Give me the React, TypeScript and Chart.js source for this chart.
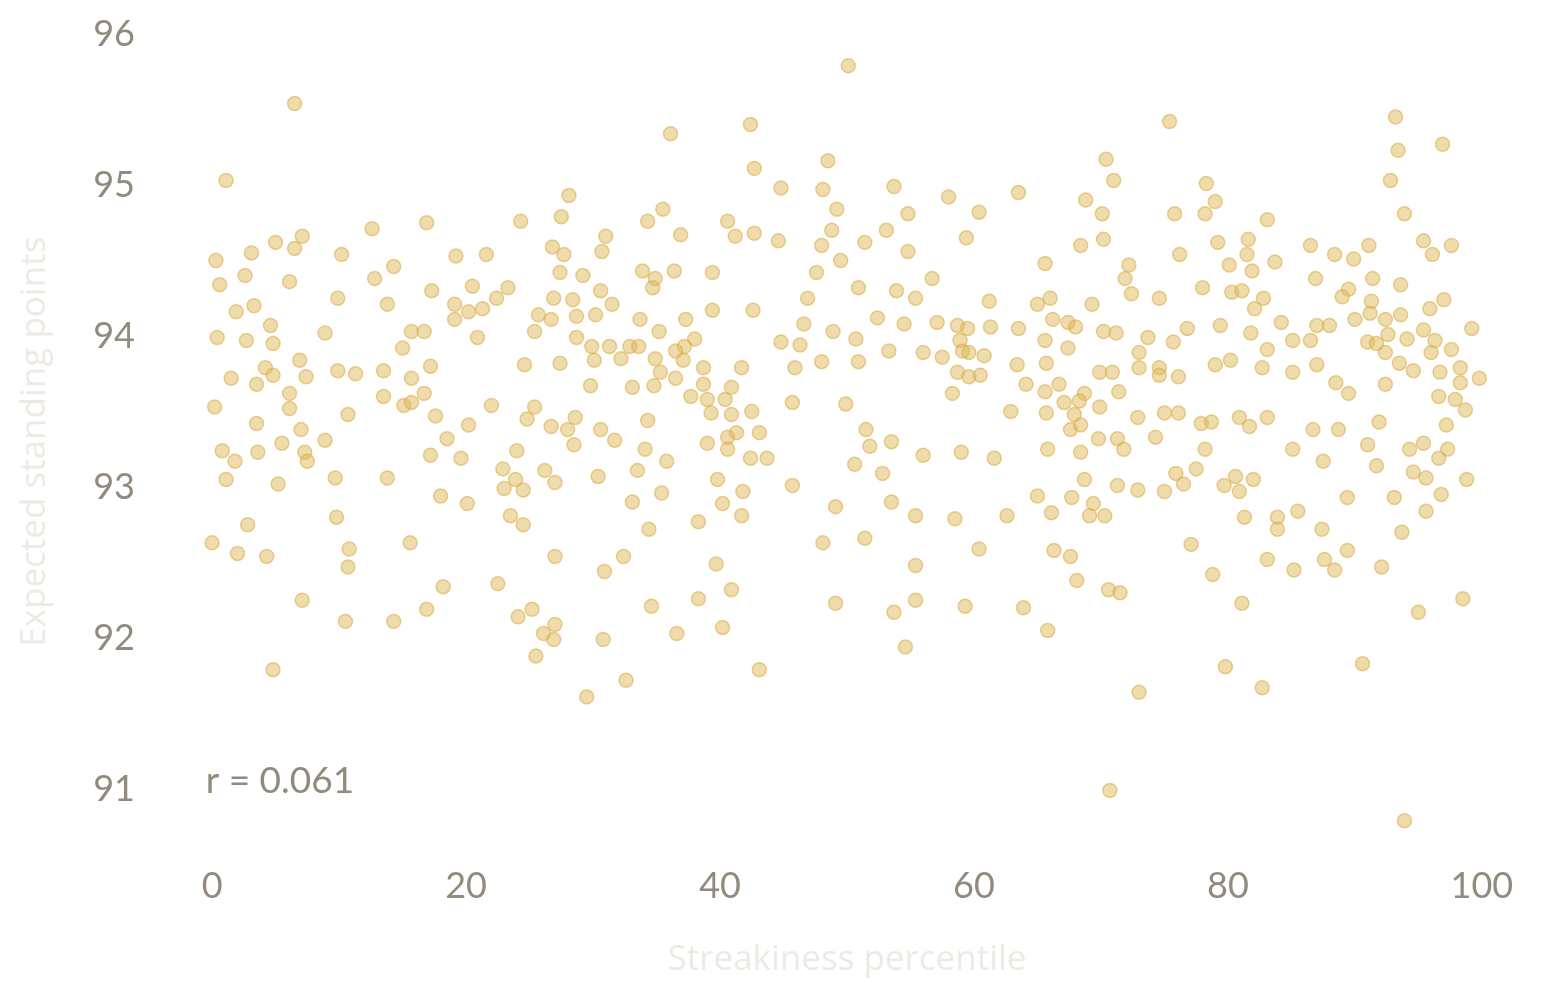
import React, { useEffect, useRef } from "react";
import { Chart, registerables } from "chart.js";

Chart.register(...registerables);

// Streakiness percentile (x) for each player
const streakiness: number[] = [
  6.5, 1.1, 12.6, 16.9, 24.3, 7.1, 5.0, 3.1, 0.3, 6.5,
  10.2, 14.3, 19.2, 21.6, 0.6, 2.6, 6.1, 12.8, 17.3, 20.5,
  23.3, 9.9, 13.8, 3.3, 1.9, 19.1, 20.2, 21.3, 22.4, 19.1,
  4.6, 0.4, 2.7, 4.8, 8.9, 15.7, 16.7, 20.9, 15.0, 6.9,
  4.2, 4.8, 7.4, 9.9, 11.3, 13.5, 17.2, 15.7, 24.6, 1.5,
  3.5, 6.1, 13.5, 16.7, 0.2, 6.1, 10.7, 15.1, 15.7, 17.6,
  22.0, 24.8, 3.5, 7.0, 20.2, 8.9, 18.5, 0.8, 3.6, 5.5,
  7.3, 17.2, 19.6, 24.0, 1.8, 7.5, 1.1, 5.2, 9.7, 13.8,
  18.0, 20.1, 22.9, 23.9, 23.0, 24.5, 23.5, 24.5, 2.8, 9.8,
  0.0, 2.0, 4.3, 10.8, 10.7, 15.6, 18.2, 22.5, 7.1, 10.5,
  14.3, 16.9, 24.1, 4.8,
  36.1, 42.4, 48.5, 42.7, 44.8, 48.1, 49.2, 28.1, 27.5, 35.5,
  34.3, 40.6, 36.9, 41.2, 42.7, 44.6, 48.8, 48.0, 49.5, 31.0,
  30.7, 26.8, 27.7, 27.4, 29.2, 33.9, 34.9, 34.7, 36.4, 39.4,
  47.6, 30.6, 26.9, 28.4, 31.5, 46.9, 25.7, 26.7, 28.7, 30.2,
  33.7, 37.3, 39.4, 42.6, 25.4, 35.2, 46.6, 48.9, 28.7, 29.9,
  31.3, 32.9, 33.6, 38.0, 37.2, 36.5, 37.1, 44.8, 46.3, 27.4,
  30.1, 32.2, 34.9, 38.7, 41.7, 45.9, 48.0, 35.3, 36.5, 29.8,
  33.1, 34.8, 38.7, 40.9, 37.7, 39.0, 40.4, 39.3, 40.9, 42.5,
  45.7, 49.9, 25.4, 28.6, 26.7, 28.0, 30.6, 34.3, 31.7, 28.5,
  34.1, 39.0, 40.6, 41.3, 40.6, 43.1, 42.4, 43.7, 26.2, 27.0,
  30.4, 33.5, 35.8, 33.1, 35.4, 39.8, 41.8, 40.2, 41.7, 45.7,
  49.1, 38.3, 34.4, 27.0, 32.4, 30.9, 39.7, 48.1, 40.9, 38.3,
  34.6, 49.1, 25.2, 27.0, 26.1, 26.9, 25.5, 30.8, 36.6, 40.2,
  43.1, 32.6, 29.5,
  50.1, 70.4, 71.0, 53.7, 58.0, 63.5, 54.8, 60.4, 68.8, 70.1,
  53.1, 51.4, 54.8, 59.4, 68.4, 70.2, 65.6, 72.2, 71.9, 72.4,
  74.6, 50.9, 53.9, 56.7, 55.4, 61.2, 65.0, 66.0, 69.3, 52.4,
  54.5, 57.1, 58.7, 59.5, 61.3, 63.5, 66.2, 67.4, 68.0, 70.2,
  71.2, 73.7, 50.7, 58.9, 65.6, 67.4, 53.3, 56.0, 57.5, 59.1,
  59.6, 60.8, 73.0, 50.9, 63.4, 65.7, 69.9, 70.9, 73.0, 74.6,
  74.6, 58.7, 59.6, 60.5, 64.1, 65.6, 66.7, 68.7, 68.3, 67.1,
  71.4, 58.3, 62.9, 65.7, 67.9, 69.9, 72.9, 75.0, 51.5, 53.5,
  51.8, 67.6, 68.4, 69.8, 71.3, 74.3, 65.8, 71.8, 56.0, 59.0,
  68.4, 50.6, 52.8, 61.6, 68.7, 71.3, 72.9, 75.0, 65.0, 67.7,
  69.4, 66.1, 69.1, 70.3, 53.5, 55.4, 58.5, 62.6, 51.4, 60.4,
  66.3, 67.6, 55.4, 68.1, 70.6, 71.5, 53.7, 55.4, 59.3, 63.9,
  65.8, 54.6, 73.0, 70.7,
  75.4, 93.2, 93.4, 96.9, 92.8, 93.9, 78.3, 79.0, 75.8, 78.2,
  83.1, 76.2, 79.2, 81.6, 81.5, 80.1, 81.9, 83.7, 86.5, 88.4,
  89.9, 91.1, 95.4, 96.1, 97.6, 86.9, 91.4, 93.6, 78.0, 80.3,
  81.1, 82.8, 82.1, 89.5, 89.0, 91.3, 91.2, 97.0, 95.9, 76.8,
  79.4, 81.8, 84.2, 87.0, 88.0, 90.0, 92.4, 93.6, 99.2, 75.7,
  85.1, 86.5, 83.1, 92.6, 94.1, 95.4, 91.0, 91.7, 92.4, 96.3,
  96.0, 97.6, 76.1, 79.0, 80.2, 82.7, 85.1, 87.0, 93.5, 94.6,
  96.7, 98.3, 98.3, 99.8, 88.5, 89.5, 92.4, 96.6, 97.9, 98.7,
  76.1, 77.9, 78.7, 80.9, 81.7, 83.1, 86.7, 88.7, 91.9, 97.2,
  78.2, 85.1, 91.0, 94.3, 95.4, 97.3, 75.9, 77.5, 76.5, 80.6,
  79.7, 80.9, 82.0, 87.5, 91.7, 94.6, 95.6, 96.6, 98.8, 89.4,
  93.1, 96.8, 95.6, 81.3, 83.9, 83.9, 85.5, 87.4, 93.7, 77.1,
  83.1, 85.2, 87.6, 88.4, 89.4, 92.1, 78.8, 81.1, 98.5, 95.0,
  79.8, 82.7, 90.6, 93.9,
];

// Expected standing points (y) for each player, same order
const expectedPoints: number[] = [
  95.54, 95.03, 94.71, 94.75, 94.76, 94.66, 94.62, 94.55, 94.50, 94.58,
  94.54, 94.46, 94.53, 94.54, 94.34, 94.40, 94.36, 94.38, 94.30, 94.33,
  94.32, 94.25, 94.21, 94.20, 94.16, 94.21, 94.16, 94.18, 94.25, 94.11,
  94.07, 93.99, 93.97, 93.95, 94.02, 94.03, 94.03, 93.99, 93.92, 93.84,
  93.79, 93.74, 93.73, 93.77, 93.75, 93.77, 93.80, 93.72, 93.81, 93.72,
  93.68, 93.62, 93.60, 93.62, 93.53, 93.52, 93.48, 93.54, 93.56, 93.47,
  93.54, 93.45, 93.42, 93.38, 93.41, 93.31, 93.32, 93.24, 93.23, 93.29,
  93.23, 93.21, 93.19, 93.24, 93.17, 93.17, 93.05, 93.02, 93.06, 93.06,
  92.94, 92.89, 93.12, 93.05, 92.99, 92.98, 92.81, 92.75, 92.75, 92.80,
  92.63, 92.56, 92.54, 92.59, 92.47, 92.63, 92.34, 92.36, 92.25, 92.11,
  92.11, 92.19, 92.14, 91.79,
  95.34, 95.40, 95.16, 95.11, 94.98, 94.97, 94.84, 94.93, 94.79, 94.84,
  94.76, 94.76, 94.67, 94.66, 94.68, 94.63, 94.70, 94.60, 94.50, 94.66,
  94.56, 94.59, 94.54, 94.42, 94.40, 94.43, 94.38, 94.32, 94.43, 94.42,
  94.42, 94.30, 94.25, 94.24, 94.21, 94.25, 94.14, 94.11, 94.13, 94.14,
  94.11, 94.11, 94.17, 94.17, 94.03, 94.03, 94.08, 94.03, 93.99, 93.93,
  93.93, 93.93, 93.93, 93.98, 93.93, 93.90, 93.84, 93.96, 93.94, 93.82,
  93.84, 93.85, 93.85, 93.79, 93.79, 93.79, 93.83, 93.76, 93.72, 93.67,
  93.66, 93.67, 93.68, 93.66, 93.60, 93.58, 93.58, 93.49, 93.48, 93.50,
  93.56, 93.55, 93.53, 93.46, 93.40, 93.38, 93.38, 93.44, 93.31, 93.28,
  93.25, 93.29, 93.33, 93.36, 93.25, 93.36, 93.19, 93.19, 93.11, 93.03,
  93.07, 93.11, 93.17, 92.90, 92.96, 93.05, 92.97, 92.89, 92.81, 93.01,
  92.87, 92.77, 92.72, 92.54, 92.54, 92.44, 92.49, 92.63, 92.32, 92.26,
  92.21, 92.23, 92.19, 92.09, 92.03, 91.99, 91.88, 91.99, 92.03, 92.07,
  91.79, 91.72, 91.61,
  95.79, 95.17, 95.03, 94.99, 94.92, 94.95, 94.81, 94.82, 94.90, 94.81,
  94.70, 94.62, 94.56, 94.65, 94.60, 94.64, 94.48, 94.47, 94.38, 94.28,
  94.25, 94.32, 94.30, 94.38, 94.25, 94.23, 94.21, 94.25, 94.21, 94.12,
  94.08, 94.09, 94.07, 94.05, 94.06, 94.05, 94.11, 94.09, 94.06, 94.03,
  94.02, 93.99, 93.98, 93.97, 93.97, 93.92, 93.90, 93.89, 93.86, 93.90,
  93.89, 93.87, 93.89, 93.83, 93.81, 93.82, 93.76, 93.76, 93.79, 93.79,
  93.74, 93.76, 93.73, 93.74, 93.68, 93.63, 93.68, 93.62, 93.57, 93.56,
  93.63, 93.62, 93.50, 93.49, 93.48, 93.53, 93.46, 93.49, 93.38, 93.30,
  93.27, 93.38, 93.41, 93.32, 93.32, 93.33, 93.25, 93.25, 93.21, 93.23,
  93.23, 93.15, 93.09, 93.19, 93.05, 93.01, 92.98, 92.97, 92.94, 92.93,
  92.89, 92.83, 92.81, 92.81, 92.90, 92.81, 92.79, 92.81, 92.66, 92.59,
  92.58, 92.54, 92.48, 92.38, 92.32, 92.30, 92.17, 92.25, 92.21, 92.20,
  92.05, 91.94, 91.64, 90.99,
  95.42, 95.45, 95.23, 95.27, 95.03, 94.81, 95.01, 94.89, 94.81, 94.81,
  94.77, 94.54, 94.62, 94.64, 94.54, 94.47, 94.43, 94.49, 94.60, 94.54,
  94.51, 94.60, 94.63, 94.54, 94.60, 94.38, 94.38, 94.34, 94.32, 94.29,
  94.30, 94.25, 94.18, 94.31, 94.26, 94.23, 94.15, 94.24, 94.18, 94.05,
  94.07, 94.02, 94.09, 94.07, 94.07, 94.11, 94.11, 94.14, 94.05, 93.96,
  93.97, 93.97, 93.91, 94.01, 93.98, 94.04, 93.96, 93.95, 93.89, 93.97,
  93.89, 93.91, 93.73, 93.81, 93.84, 93.79, 93.76, 93.81, 93.82, 93.77,
  93.76, 93.79, 93.69, 93.72, 93.69, 93.62, 93.68, 93.60, 93.58, 93.51,
  93.49, 93.42, 93.43, 93.46, 93.40, 93.46, 93.38, 93.38, 93.43, 93.41,
  93.25, 93.25, 93.28, 93.25, 93.29, 93.25, 93.09, 93.12, 93.02, 93.07,
  93.01, 92.97, 93.05, 93.17, 93.14, 93.10, 93.06, 93.19, 93.05, 92.93,
  92.93, 92.95, 92.84, 92.80, 92.80, 92.72, 92.84, 92.72, 92.70, 92.62,
  92.52, 92.45, 92.52, 92.45, 92.58, 92.47, 92.42, 92.23, 92.26, 92.17,
  91.81, 91.67, 91.83, 90.79,
];

const xTicks: number[] = [0, 20, 40, 60, 80, 100];
const yTicks: number[] = [91, 92, 93, 94, 95, 96];
const xTitle = "Streakiness percentile";
const yTitle = "Expected standing points";
const correlationText = "r = 0.061";
const correlationX = -0.5;
const correlationY = 91.05;

const TICK_COLOR = "#928a7f";
const TITLE_COLOR = "#eeeae3";
const TICK_FONT = "Lato";
const TICK_SIZE = 36;
const TITLE_FONT = "'Open Sans', 'Noto Sans', sans-serif";
const TITLE_SIZE = 35;

const correlationPlugin = {
  id: "correlationLabel",
  afterDatasetsDraw(chart: any) {
    const { ctx, scales } = chart;
    ctx.save();
    ctx.font = `${TICK_SIZE + 1}px ${TICK_FONT}`;
    ctx.fillStyle = TICK_COLOR;
    ctx.textAlign = "left";
    ctx.textBaseline = "middle";
    ctx.fillText(
      correlationText,
      scales.x.getPixelForValue(correlationX),
      scales.y.getPixelForValue(correlationY)
    );
    ctx.restore();
  },
};

export default function App() {
  const canvasRef = useRef<HTMLCanvasElement | null>(null);

  useEffect(() => {
    if (!canvasRef.current) return;
    const points = streakiness.map((x, i) => ({ x, y: expectedPoints[i] }));
    const chart = new Chart(canvasRef.current, {
      type: "scatter",
      data: {
        datasets: [
          {
            data: points,
            backgroundColor: "rgba(224,185,90,0.5)",
            borderColor: "rgba(218,172,70,0.55)",
            borderWidth: 1.5,
            pointRadius: 7,
            pointHoverRadius: 7,
          },
        ],
      },
      options: {
        animation: false,
        responsive: true,
        maintainAspectRatio: false,
        layout: { padding: { top: 34, right: 43, left: 0, bottom: 0 } },
        plugins: {
          legend: { display: false },
          tooltip: { enabled: false },
        },
        scales: {
          x: {
            type: "linear",
            min: -3,
            max: 103,
            afterBuildTicks: (s: any) => {
              s.ticks = xTicks.map((v) => ({ value: v }));
            },
            afterFit: (s: any) => {
              s.height = 148.6;
              s.paddingLeft = 0;
              s.paddingRight = 0;
            },
            grid: { display: false, drawTicks: false },
            border: { display: false },
            ticks: {
              color: TICK_COLOR,
              font: { family: TICK_FONT, size: TICK_SIZE },
              padding: 15,
              maxRotation: 0,
            },
            title: {
              display: true,
              text: xTitle,
              color: TITLE_COLOR,
              font: { family: TITLE_FONT, size: TITLE_SIZE },
              padding: { top: 0, bottom: 17 },
            },
          },
          y: {
            type: "linear",
            min: 90.6,
            max: 96,
            afterBuildTicks: (s: any) => {
              s.ticks = yTicks.map((v) => ({ value: v }));
            },
            afterFit: (s: any) => {
              s.width = 174;
              s.paddingTop = 0;
              s.paddingBottom = 0;
            },
            grid: { display: false, drawTicks: false },
            border: { display: false },
            ticks: {
              color: TICK_COLOR,
              font: { family: TICK_FONT, size: TICK_SIZE },
              padding: 39,
            },
            title: {
              display: true,
              text: yTitle,
              color: TITLE_COLOR,
              font: { family: TITLE_FONT, size: TITLE_SIZE },
              padding: { top: 14, bottom: 0 },
            },
          },
        },
      },
      plugins: [correlationPlugin],
    } as any);
    return () => chart.destroy();
  }, []);

  return (
    <div
      style={{
        position: "fixed",
        left: 0,
        top: 0,
        width: 1563,
        height: 998,
        background: "#ffffff",
      }}
    >
      <canvas ref={canvasRef} />
    </div>
  );
}
